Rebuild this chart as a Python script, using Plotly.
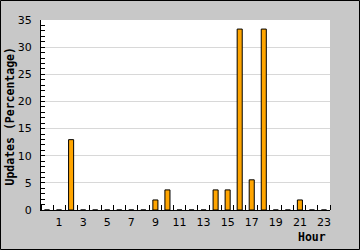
import plotly.graph_objects as go

hours = list(range(24))
percent = [0, 0, 12.96, 0, 0, 0, 0, 0, 0, 1.85, 3.7, 0, 0, 0,
           3.7, 3.7, 33.33, 5.56, 33.33, 0, 0, 1.85, 0, 0]
x_tick_labels = [str(h) for h in range(1, 24, 2)]
x_tick_vals = list(range(1, 24, 2))
y_title = "Updates (Percentage)"
x_title = "Hour"

W, H = 360, 250
ML, MR, MT, MB = 41, 30, 20, 40
PW, PH = W - ML - MR, H - MT - MB

fig = go.Figure(go.Bar(
    x=hours, y=percent, width=0.42,
    marker=dict(color="#ffa500", line=dict(color="black", width=1)),
))

mono = "DejaVu Sans Mono"
fig.update_layout(
    width=W, height=H,
    margin=dict(l=ML, r=MR, t=MT, b=MB, pad=0),
    paper_bgcolor="#c8c8c8", plot_bgcolor="white",
    showlegend=False,
    font=dict(family="DejaVu Sans", size=11, color="black"),
    xaxis=dict(
        range=[-0.5, 23.5], tickmode="array", tickvals=x_tick_vals,
        ticktext=x_tick_labels, ticks="", showgrid=False, zeroline=False,
        showline=True, linecolor="black", linewidth=1,
        ticklabelstandoff=2,
        minor=dict(tick0=0.5, dtick=1, ticks="inside", ticklen=5,
                   tickcolor="black", showgrid=False),
    ),
    yaxis=dict(
        range=[0, 35], tick0=0, dtick=5, ticks="inside", ticklen=4,
        tickcolor="black", showgrid=True, gridcolor="#d8d8d8", gridwidth=1,
        zeroline=False, showline=True, linecolor="black", linewidth=1,
        ticklabelstandoff=6,
        minor=dict(dtick=1, ticks="inside", ticklen=4, tickcolor="black",
                   showgrid=False),
    ),
    annotations=[
        dict(text=f"<b>{y_title}</b>", textangle=-90, xref="paper", yref="paper",
             x=0, y=0.5, xshift=-(ML - 9), yshift=-1.5, xanchor="center", yanchor="middle",
             showarrow=False, font=dict(family=mono, size=11.5, color="black")),
        dict(text=f"<b>{x_title}</b>", xref="paper", yref="paper",
             x=1, y=0, xshift=-2, yshift=-27, xanchor="right", yanchor="middle",
             showarrow=False, font=dict(family=mono, size=11.5, color="black")),
    ],
    shapes=[dict(type="rect", xref="paper", yref="paper",
                 x0=-(ML - 0.5) / PW, x1=1 + (MR - 0.5) / PW,
                 y0=-(MB - 0.5) / PH, y1=1 + (MT - 0.5) / PH,
                 line=dict(color="black", width=1), layer="below")],
)

fig.write_html("out.html")
